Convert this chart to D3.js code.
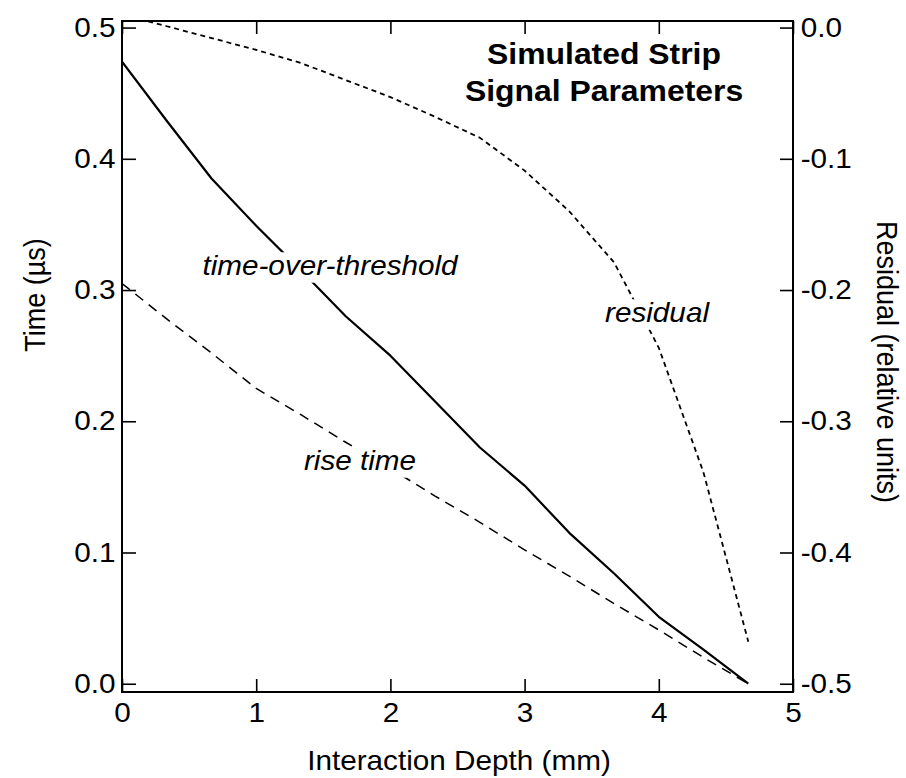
<!DOCTYPE html>
<html>
<head>
<meta charset="utf-8">
<script src="https://cdn.jsdelivr.net/npm/d3@7"></script>
<style>
  html, body { margin: 0; padding: 0; background: #fff; }
  svg { display: block; font-family: "Liberation Sans", Arial, Helvetica, sans-serif; }
</style>
</head>
<body>
<svg id="chart" width="906" height="778"></svg>
<script>
// ---- data ----
const depth = [0, 0.333, 0.667, 1.0, 1.333, 1.667, 2.0, 2.333, 2.667, 3.0, 3.333, 3.667, 4.0, 4.333, 4.667];
const timeOverThreshold = [0.474, 0.429, 0.385, 0.349, 0.315, 0.280, 0.250, 0.215, 0.180, 0.151, 0.115, 0.084, 0.051, 0.026, 0.000];
const riseTime = [0.305, 0.278, 0.252, 0.225, 0.205, 0.184, 0.164, 0.143, 0.123, 0.102, 0.082, 0.061, 0.041, 0.020, 0.000];
const residual = [0.010, 0.001, -0.008, -0.017, -0.027, -0.040, -0.053, -0.068, -0.084, -0.109, -0.140, -0.179, -0.244, -0.339, -0.468];
const xTicks = [0, 1, 2, 3, 4, 5];
const yTicks = [0.0, 0.1, 0.2, 0.3, 0.4, 0.5];
const yRightTicks = [0.0, -0.1, -0.2, -0.3, -0.4, -0.5];
const titleLines = ["Simulated Strip", "Signal Parameters"];

// ---- layout ----
const M = { left: 122, right: 793, top: 21, bottom: 692 };
const SX = 1.1;           // horizontal stretch of the original figure's text
const FS = 27;            // base font size

const svg = d3.select("#chart");

const x = d3.scaleLinear().domain([0, 5]).range([M.left, M.right]);
const y = d3.scaleLinear().domain([-0.0063, 0.505]).range([M.bottom, M.top]);
const yR = d3.scaleLinear().domain([-0.5063, 0.005]).range([M.bottom, M.top]);

svg.append("defs").append("clipPath").attr("id", "plotclip")
  .append("rect").attr("x", M.left).attr("y", M.top).attr("width", M.right - M.left).attr("height", M.bottom - M.top);

const fmt = d => (Math.abs(d) < 1e-9 ? 0 : d).toFixed(1);
const fmtInt = d => String(d);

function styleAxis(g) {
  g.select(".domain").remove();
  g.selectAll(".tick line").attr("stroke", "#000").attr("stroke-width", 1.6);
  g.selectAll(".tick text").attr("fill", "#000").attr("font-size", FS).attr("font-family", "Liberation Sans, Arial, sans-serif");
}

// bottom
const gB = svg.append("g").attr("transform", `translate(0,${M.bottom})`)
  .call(d3.axisBottom(x).tickValues(xTicks).tickFormat(fmtInt).tickSizeInner(-13).tickSizeOuter(0).tickPadding(11));
styleAxis(gB);
gB.selectAll(".tick text").attr("transform", `scale(${SX},1)`);

// top
const gT = svg.append("g").attr("transform", `translate(0,${M.top})`)
  .call(d3.axisTop(x).tickValues(xTicks).tickFormat("").tickSizeInner(-13).tickSizeOuter(0));
styleAxis(gT);

// left
const gL = svg.append("g").attr("transform", `translate(${M.left},0)`)
  .call(d3.axisLeft(y).tickValues(yTicks).tickFormat(fmt).tickSizeInner(-14).tickSizeOuter(0).tickPadding(6));
styleAxis(gL);
gL.selectAll(".tick text").attr("transform", `scale(${SX},1)`);

// right
const gR = svg.append("g").attr("transform", `translate(${M.right},0)`)
  .call(d3.axisRight(yR).tickValues(yRightTicks).tickFormat(fmt).tickSizeInner(-13).tickSizeOuter(0).tickPadding(7));
styleAxis(gR);
gR.selectAll(".tick text").attr("transform", `scale(${SX},1)`);

// frame
svg.append("rect").attr("x", M.left).attr("y", M.top).attr("width", M.right - M.left).attr("height", M.bottom - M.top)
  .attr("fill", "none").attr("stroke", "#000").attr("stroke-width", 2);

// ---- lines ----
const plot = svg.append("g").attr("clip-path", "url(#plotclip)");
const lineL = d3.line().x((d, i) => x(depth[i])).y(d => y(d));
const lineR = d3.line().x((d, i) => x(depth[i])).y(d => yR(d));

plot.append("path").datum(riseTime).attr("d", lineL)
  .attr("fill", "none").attr("stroke", "#000").attr("stroke-width", 1.5).attr("stroke-dasharray", "10,7");
plot.append("path").datum(timeOverThreshold).attr("d", lineL)
  .attr("fill", "none").attr("stroke", "#000").attr("stroke-width", 2.2).attr("stroke-linejoin", "round");
plot.append("path").datum(residual).attr("d", lineR)
  .attr("fill", "none").attr("stroke", "#000").attr("stroke-width", 1.8).attr("stroke-dasharray", "5,4");

// ---- labels with white backing ----
function label(txt, cx, baseline, opts = {}) {
  const g = svg.append("g").attr("transform", `translate(${cx},${baseline}) scale(${SX},1)`);
  const rect = g.append("rect").attr("fill", opts.bg ? "#fff" : "none");
  const t = g.append("text").attr("x", 0).attr("y", 0).attr("text-anchor", "middle")
    .attr("font-size", opts.size || FS)
    .attr("font-style", opts.italic ? "italic" : "normal")
    .attr("font-weight", opts.bold ? "bold" : "normal")
    .attr("fill", "#000").text(txt);
  if (opts.bg) {
    const b = t.node().getBBox();
    const p = 3;
    rect.attr("x", b.x - p).attr("y", b.y + 2).attr("width", b.width + 2 * p).attr("height", b.height);
  }
  return g;
}

label("time-over-threshold", 330, 275, { italic: true, bg: true });
label("rise time", 360, 470, { italic: true, bg: true });
label("residual", 657, 322, { italic: true, bg: true });

titleLines.forEach((s, i) => label(s, 604, 64 + i * 37, { bold: true, size: 29 }));

// axis titles
label("Interaction Depth (mm)", 459, 770, {});

svg.append("text")
  .attr("transform", `translate(45,295) scale(${SX},1) rotate(-90)`)
  .attr("text-anchor", "middle").attr("font-size", FS).attr("fill", "#000").text("Time (µs)");

svg.append("text")
  .attr("transform", `translate(877,362) scale(${SX},1) rotate(90)`)
  .attr("text-anchor", "middle").attr("font-size", FS).attr("fill", "#000").text("Residual (relative units)");
</script>
</body>
</html>
